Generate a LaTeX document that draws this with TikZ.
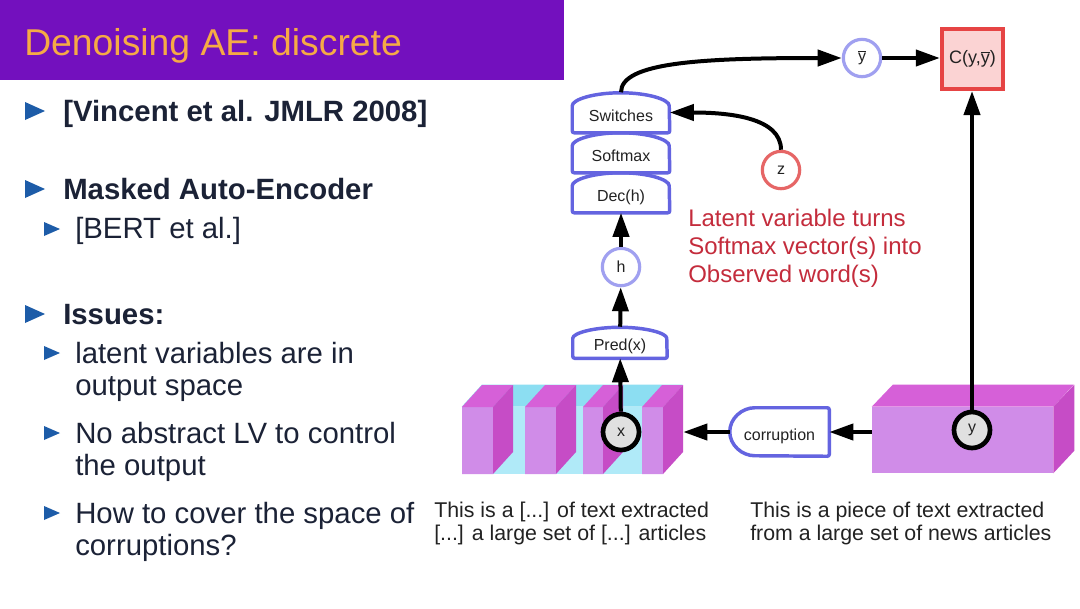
\documentclass[tikz,border=0pt]{standalone}
\usepackage{fontspec}
\setmainfont{Liberation Sans}
\usetikzlibrary{arrows.meta}

\definecolor{titlebar}{HTML}{7310BE}
\definecolor{titletext}{HTML}{F6AA45}
\definecolor{listtext}{HTML}{1B2236}
\definecolor{bulletblue}{HTML}{1D5CA8}
\definecolor{modblue}{HTML}{6464E0}
\definecolor{varblue}{HTML}{A0A0F0}
\definecolor{zred}{HTML}{E66666}
\definecolor{costred}{HTML}{E64444}
\definecolor{costfill}{HTML}{FBD3D3}
\definecolor{notered}{HTML}{C42C3C}
\definecolor{cyanfront}{HTML}{B0EAF8}
\definecolor{cyantop}{HTML}{8CDEF2}
\definecolor{slabfront}{HTML}{D08CE8}
\definecolor{slabtop}{HTML}{D660D8}
\definecolor{slabside}{HTML}{C64CC6}
\definecolor{obsgray}{HTML}{E0E0E0}
\definecolor{diagtext}{HTML}{222222}

\begin{document}
\begin{tikzpicture}[x=0.75pt,y=-0.75pt,
    arr/.style={line width=3pt,-{Triangle[length=18pt,width=12pt]}},
    module/.style={inner sep=0pt,text=diagtext,font=\fontsize{12}{14}\selectfont,text height=16pt,text depth=2pt},
    modline/.style={draw=modblue,line width=2.6pt,rounded corners=1.5pt},
    obs/.style={circle,draw=black,line width=3.5pt,fill=obsgray,minimum size=27pt,inner sep=0pt,text=diagtext,font=\fontsize{12}{14}\selectfont},
    latent/.style={circle,draw=#1,line width=2.4pt,fill=white,minimum size=28pt,inner sep=0pt,text=diagtext,font=\fontsize{12}{14}\selectfont},
    item/.style={anchor=base west,inner sep=0pt,align=left,text=listtext,font=\fontsize{22}{24}\selectfont},
    itembold/.style={item,font=\fontsize{22}{24}\selectfont\bfseries},
    bullet/.style={fill=bulletblue},
    caption/.style={anchor=base west,inner sep=0pt,align=left,text=diagtext,font=\fontsize{16}{17.25}\selectfont}]
\useasboundingbox (0,0) rectangle (1080,608);
\fill[white] (0,0) rectangle (1080,608);

% title
\fill[titlebar] (0,0) rectangle (564,80);
\node[anchor=base west,inner sep=0pt,text=titletext,font=\fontsize{28}{30}\selectfont] (title) at (24,55) {Denoising AE: discrete};

% list on the left (base = last line)
\fill[bullet] (25,102) -- (45,111) -- (25,120) -- cycle;
\fill[bullet] (25,180) -- (45,189) -- (25,198) -- cycle;
\fill[bullet] (25,305) -- (45,314) -- (25,323) -- cycle;
\fill[bullet] (44,222) -- (60,229) -- (44,236) -- cycle;
\fill[bullet] (44,346) -- (60,353) -- (44,360) -- cycle;
\fill[bullet] (44,426) -- (60,433) -- (44,440) -- cycle;
\fill[bullet] (44,506) -- (60,513) -- (44,520) -- cycle;
\node[itembold] (vincent) at (63,121) {[Vincent et al. JMLR 2008]};
\node[itembold] (mae) at (63,199) {Masked Auto-Encoder};
\node[item] (bert) at (75,238) {[BERT et al.]};
\node[itembold] (issues) at (63,324) {Issues:};
\node[item] (issue1) at (75,395) {latent variables are in\\output space};
\node[item] (issue2) at (75,475) {No abstract LV to control\\the output};
\node[item] (issue3) at (75,555) {How to cover the space of\\corruptions?};

% masked input block
\node[fill=cyanfront,minimum width=150.75pt,minimum height=50.25pt,inner sep=0pt] (mbox) at (562.5,440.5) {};
\fill[cyantop] (mbox.north west) -- ++(20,-22) -- ++(201,0) -- (mbox.north east) -- cycle;
\fill[slabfront] (462,407) rectangle (493,474) (525,407) rectangle (556,474) (583,407) rectangle (603,474) (642,407) rectangle (663,474);
\fill[slabtop] (462,407) -- (482,385) -- (513,385) -- (493,407) -- cycle (525,407) -- (545,385) -- (576,385) -- (556,407) -- cycle
  (583,407) -- (603,385) -- (623,385) -- (603,407) -- cycle (642,407) -- (662,385) -- (683,385) -- (663,407) -- cycle;
\fill[slabside] (493,407) -- (513,385) -- (513,452) -- (493,474) -- cycle (556,407) -- (576,385) -- (576,452) -- (556,474) -- cycle
  (603,407) -- (623,385) -- (623,452) -- (603,474) -- cycle (663,407) -- (683,385) -- (683,452) -- (663,474) -- cycle;

% clean input block
\node[fill=slabfront,minimum width=135.75pt,minimum height=49.5pt,inner sep=0pt] (ybox) at (962.5,440) {};
\fill[slabtop] (ybox.north west) -- ++(21,-22) -- ++(181,0) -- (ybox.north east) -- cycle;
\fill[slabside] (ybox.north east) -- ++(21,-22) -- ++(0,66) -- (ybox.south east) -- cycle;

\node[obs] (x) at (621,432) {x};
\node[obs] (y) at (972,430) {y};

% corruption
\node[module,minimum width=74.25pt,minimum height=36pt,text height=14pt] (corr) at (779.5,432) {corruption};
\draw[modline] (corr.north east) -- ([xshift=20.25pt]corr.north west) arc[start angle=90,end angle=270,x radius=20.25pt,y radius=18pt] -- (corr.south east) -- cycle;

% modules
\node[module,minimum width=72.75pt,minimum height=30pt] (sw) at (621,112.5) {Switches};
\node[module,minimum width=72.75pt,minimum height=30pt] (sm) at (621,152.5) {Softmax};
\node[module,minimum width=72.75pt,minimum height=30pt] (dec) at (621,192.5) {Dec(h)};
\node[module,minimum width=70.5pt,minimum height=23.25pt,text height=14pt] (pred) at (620,342.5) {Pred(x)};
\draw[modline] (sw.south west) -- ([yshift=18.75pt]sw.south west) arc[start angle=180,end angle=0,x radius=36.375pt,y radius=11.25pt] -- (sw.south east) -- cycle;
\draw[modline] (sm.south west) -- ([yshift=18.75pt]sm.south west) arc[start angle=180,end angle=0,x radius=36.375pt,y radius=11.25pt] -- (sm.south east) -- cycle;
\draw[modline] (dec.south west) -- ([yshift=18.75pt]dec.south west) arc[start angle=180,end angle=0,x radius=36.375pt,y radius=11.25pt] -- (dec.south east) -- cycle;
\draw[modline] (pred.south west) -- ([yshift=13.5pt]pred.south west) arc[start angle=180,end angle=0,x radius=35.25pt,y radius=9.75pt] -- (pred.south east) -- cycle;

\node[latent=varblue] (h) at (621,267) {h};
\node[latent=varblue] (ybar) at (862,58) {$\overline{\mbox{y}}$};
\node[latent=zred] (z) at (781,170) {z};
\node[draw=costred,line width=3pt,fill=costfill,minimum width=46pt,minimum height=45pt,inner sep=0pt,text=diagtext,font=\fontsize{13.5}{15}\selectfont] (cost) at (972.5,59) {C(y,$\overline{\mbox{y}}$)};

% arrows
\draw[arr] (corr.east -| ybox.west) -- (corr.east);
\draw[arr] (corr.west) -- ([xshift=15pt]mbox.east |- corr.west);
\draw[arr] (x) -- (pred);
\draw[arr] (pred) -- (h);
\draw[arr] (h) -- (dec);
\draw[arr] (sw.north) .. controls +(0,-30) and +(-140,0) .. (ybar.west);
\draw[arr] (z.north) .. controls +(0,-32) and +(60,0) .. (sw.east);
\draw[arr] (ybar.east) -- (ybar.east -| cost.west);
\draw[arr] (y.north) -- (y.north |- cost.south);

% texts
\node[anchor=base west,inner sep=0pt,align=left,text=notered,font=\fontsize{18}{20.8}\selectfont] (note) at (688,282) {Latent variable turns\\Softmax vector(s) into\\Observed word(s)};
\node[caption] (capx) at (434,540) {This is a [...] of text extracted\\{}[...] a large set of [...] articles};
\node[caption] (capy) at (750,540) {This is a piece of text extracted\\from a large set of news articles};
\end{tikzpicture}
\end{document}
